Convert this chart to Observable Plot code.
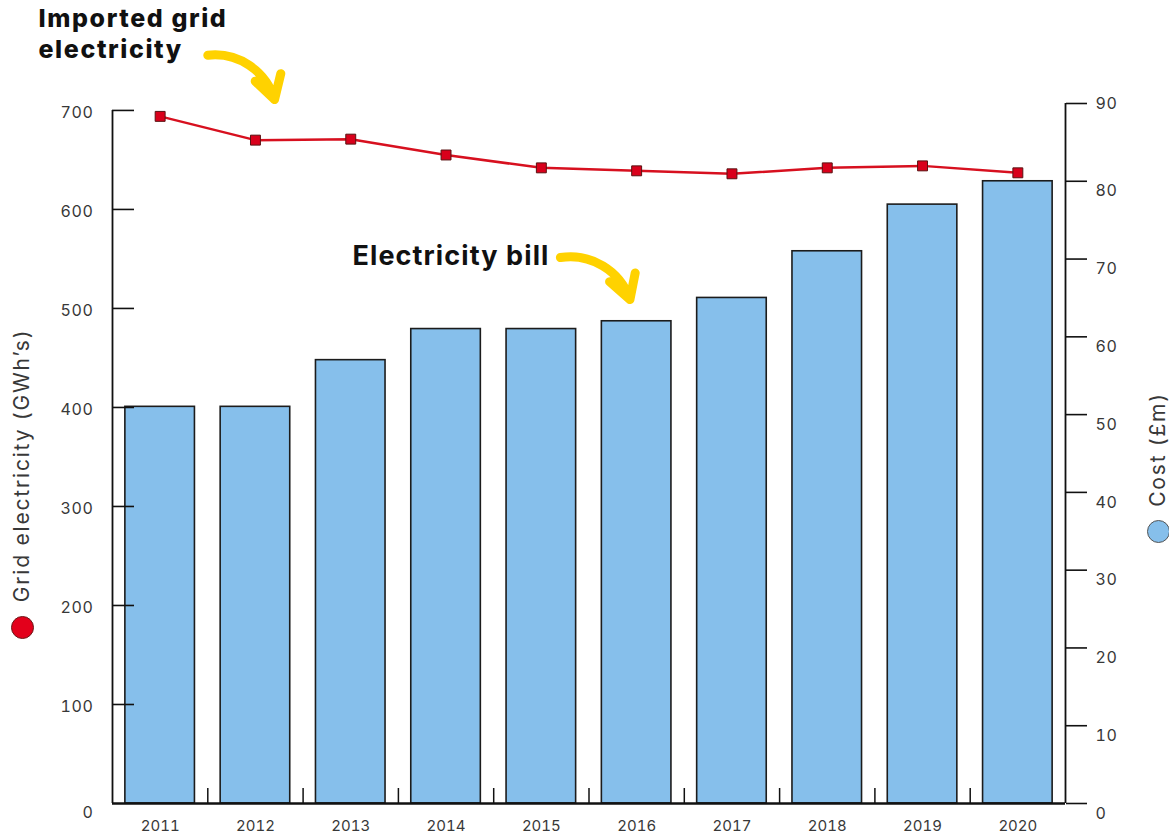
<!DOCTYPE html>
<html><head><meta charset="utf-8">
<script src="https://cdn.jsdelivr.net/npm/d3@7"></script>
<script src="https://cdn.jsdelivr.net/npm/@observablehq/plot@0.6"></script>
<style>
body{margin:0;background:#fff}
#chart svg{display:block}
</style>
</head><body><div id="chart"></div>
<script>
// ---- data ----
const years = [2011, 2012, 2013, 2014, 2015, 2016, 2017, 2018, 2019, 2020];
const costMillions = [51, 51, 57, 61, 61, 62, 65, 71, 77, 80];          // bars, right axis (£m)
const gridGWh = [694, 670, 671, 655, 642, 639, 636, 642, 644, 637];     // line, left axis (GWh)
const leftTicks = [0, 100, 200, 300, 400, 500, 600, 700];
const rightTicks = [0, 10, 20, 30, 40, 50, 60, 70, 80, 90];
const leftTitle = "Grid electricity (GWh’s)";
const rightTitle = "Cost (£m)";
const lineNoteLines = ["Imported grid", "electricity"];
const barNote = "Electricity bill";

// ---- dual axis mapping ----
const costMax = 90;
const gridMax = 707;
const toCost = v => v * costMax / gridMax;

const data = years.map((year, i) => ({year, cost: costMillions[i], grid: gridGWh[i]}));
const boundaries = years.slice(0, -1).map(y => y + 0.5);

const W = 1169, H = 839;
const mL = 112, mR = 104, mT = 103, mB = 36;
const frameW = W - mL - mR, frameH = H - mT - mB;

const blue = "#86bfeb", red = "#d7101f", yellow = "#ffd200", ink = "#383838";

const arrows = [
  {x1: 2011.5, y1: 96.2, x2: 2012.2, y2: 90.5},
  {x1: 2015.2, y1: 70.2, x2: 2015.93, y2: 64.8}
];

const chart = Plot.plot({
  width: W, height: H,
  marginLeft: mL, marginRight: mR, marginTop: mT, marginBottom: mB,
  style: {fontFamily: "Inter, 'Noto Sans', sans-serif", overflow: "visible", background: "#fff"},
  x: {type: "linear", domain: [years[0] - 0.5, years[years.length - 1] + 0.5], label: null},
  y: {domain: [0, costMax], label: null},
  marks: [
    // bars
    Plot.rectY(data, {x1: d => d.year - 0.365, x2: d => d.year + 0.365, y1: 0, y2: "cost",
      fill: blue, stroke: "#1c1c1c", strokeWidth: 1.6}),
    // baseline and x ticks between bars
    Plot.ruleY([0], {stroke: "#111", strokeWidth: 2.5}),
    Plot.tickX(boundaries, {x: d => d, insetTop: frameH - 15, stroke: "#111", strokeWidth: 1.5}),
    Plot.axisX({ticks: years, tickFormat: d => String(d), tickSize: 0, tickPadding: 17,
      fontSize: 15, fill: ink, label: null}),
    // left axis
    Plot.ruleX([years[0] - 0.5], {y1: 0, y2: toCost(700), stroke: "#111", strokeWidth: 1.8}),
    Plot.ruleY(leftTicks.filter(t => t > 0).map(toCost), {y: d => d, insetRight: frameW - 22, stroke: "#111", strokeWidth: 1.6}),
    Plot.axisY({anchor: "left", ticks: leftTicks.filter(t => t > 0).map(toCost),
      tickFormat: v => String(Math.round(v * gridMax / costMax)), tickSize: 0, tickPadding: 19,
      dy: 2, fontSize: 16, fill: ink, label: null}),
    Plot.axisY({anchor: "left", ticks: [0], tickFormat: () => "0", tickSize: 0, tickPadding: 19,
      dy: 9, fontSize: 16, fill: ink, label: null}),
    // right axis
    Plot.ruleX([years[years.length - 1] + 0.5], {stroke: "#111", strokeWidth: 1.8}),
    Plot.axisY({anchor: "right", ticks: rightTicks, tickFormat: () => "", tickSize: 21,
      stroke: "#111", strokeWidth: 1.6, label: null}),
    Plot.axisY({anchor: "right", ticks: rightTicks.slice(0, -1), tickSize: 0, tickPadding: 30, dy: 10,
      fontSize: 16, fill: ink, label: null}),
    Plot.axisY({anchor: "right", ticks: rightTicks.slice(-1), tickSize: 0, tickPadding: 30, dy: 0,
      fontSize: 16, fill: ink, label: null}),
    // line series
    Plot.line(data, {x: "year", y: d => toCost(d.grid), stroke: red, strokeWidth: 2.5}),
    Plot.dot(data, {x: "year", y: d => toCost(d.grid), symbol: "square", r: 5.6,
      fill: "#d9001b", stroke: "#5a1212", strokeWidth: 1}),
    // axis titles with legend dots
    Plot.text([leftTitle], {text: d => d, frameAnchor: "left", textAnchor: "middle", rotate: -90,
      dx: -90, dy: 12, fontSize: 21, fill: ink}),
    Plot.dot([leftTitle], {frameAnchor: "left", dx: -90, dy: 174, r: 11, fill: "#e3001b", stroke: "#6b1a1a", strokeWidth: 1}),
    Plot.text([rightTitle], {text: d => d, frameAnchor: "right", textAnchor: "middle", rotate: -90,
      dx: 93, dy: -4, fontSize: 21, fill: ink}),
    Plot.dot([rightTitle], {frameAnchor: "right", dx: 93, dy: 78, r: 11, fill: blue, stroke: "#555", strokeWidth: 1}),
    // annotations
    Plot.text([lineNoteLines[0]], {text: d => d, frameAnchor: "top-left", textAnchor: "start", lineAnchor: "top",
      dx: -74, dy: -94, fontSize: 25, fontWeight: 800, fill: "#111"}),
    Plot.text([lineNoteLines[1]], {text: d => d, frameAnchor: "top-left", textAnchor: "start", lineAnchor: "top",
      dx: -74, dy: -63, fontSize: 25, fontWeight: 800, fill: "#111"}),
    Plot.text([barNote], {text: d => d, frameAnchor: "top-left", textAnchor: "start", lineAnchor: "top",
      dx: 240, dy: 142, fontSize: 27, fontWeight: 700, fill: "#111"}),
    Plot.arrow(arrows, {x1: "x1", y1: "y1", x2: "x2", y2: "y2", bend: 40, stroke: yellow,
      strokeWidth: 9, headLength: 10, strokeLinecap: "round", strokeLinejoin: "round"})
  ]
});
// letter spacing to mimic the wider geometric face of the original
const svg = d3.select(chart);
svg.selectAll('g[aria-label="y-axis tick label"]').style("letter-spacing", "0.6px");
const textGroups = svg.selectAll('g[aria-label="text"]').nodes();
const spacing = ["1.8px", "1.8px", "1.6px", "1.6px", "1.1px"];
textGroups.forEach((g, i) => d3.select(g).style("letter-spacing", spacing[i]));
document.getElementById("chart").appendChild(chart);
</script>
</body></html>
